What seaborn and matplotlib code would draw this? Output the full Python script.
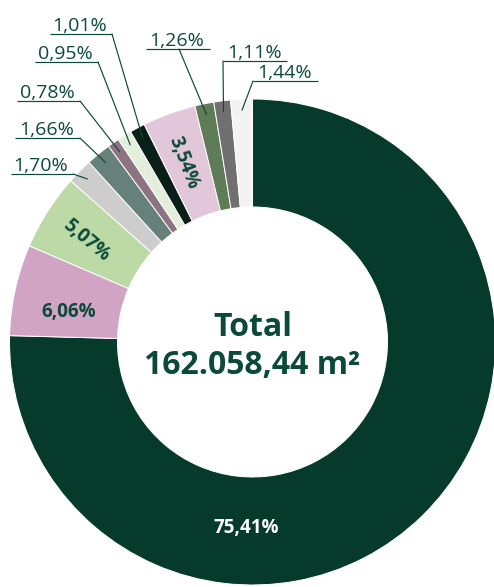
import numpy as np
import matplotlib
matplotlib.use("Agg")
import matplotlib.pyplot as plt
import seaborn as sns

# ---- data ----
labels = ["75,41%", "6,06%", "5,07%", "1,70%", "1,66%", "0,78%",
          "0,95%", "1,01%", "3,54%", "1,26%", "1,11%", "1,44%"]
values = [75.41, 6.06, 5.07, 1.70, 1.66, 0.78, 0.95, 1.01, 3.54, 1.26, 1.11, 1.44]
colors = ["#063A2A", "#D2A4C4", "#BDDAA6", "#CDCDCD", "#66807A", "#8E7482",
          "#E3EEDB", "#0A1F18", "#E2C7DA", "#5F7B57", "#707070", "#F3F3F3"]
total_line1 = "Total"
total_line2 = "162.058,44 m²"

# ---- style ----
sns.set_theme(style="white")
plt.rcParams["font.family"] = ["Open Sans", "DejaVu Sans"]
TXT = "#0B4A3A"

W, H = 494, 587
fig = plt.figure(figsize=(W / 100, H / 100), dpi=100)
ax = fig.add_axes([0, 0, 1, 1])

cx, cy = 252.5, H - 342
R_out, ring = 243, 108
palette = sns.color_palette(colors)

wedges, _ = ax.pie(values, colors=palette, startangle=90, counterclock=False,
                   center=(cx, cy), radius=R_out,
                   wedgeprops=dict(width=ring, edgecolor="white", linewidth=0.7),
                   frame=False)
ax.set_xlim(0, W)
ax.set_ylim(0, H)
ax.set_aspect("equal")
ax.axis("off")

def mid_angle(w):
    return np.deg2rad((w.theta1 + w.theta2) / 2)

# inside labels: index -> (angle offset deg, radius offset px, rotation or None=radial)
inside = {1: (3.0, -3, 0.0), 2: (1.0, 6, -40.0), 8: (0.8, 3, None)}
r_mid = R_out - ring / 2
for i, (da, dr, rot) in inside.items():
    a = mid_angle(wedges[i]) + np.deg2rad(da)
    r = r_mid + dr
    x, y = cx + r * np.cos(a), cy + r * np.sin(a)
    rotation = rot if rot is not None else np.rad2deg(a) - 180
    ax.text(x, y, labels[i], ha="center", va="center", rotation=rotation,
            fontsize=13.5, fontweight="bold", color=TXT, rotation_mode="anchor")

# main slice label near the bottom
ax.text(cx - 6, cy - 186, labels[0], ha="center", va="center",
        fontsize=13.5, fontweight="bold", color="white")

# outside labels with leader lines: (index, underline x0, x1, y, knee x)
outside = [
    (3, 11, 73, 174, 73),
    (4, 15, 80, 138, 80),
    (5, 17, 80, 101, 80),
    (6, 35, 98, 62, 98),
    (7, 50, 112, 34, 112),
    (9, 146, 210, 49, 179),
    (10, 223, 287, 61, 223),
    (11, 253, 318, 81, 253),
]
r_end = R_out * 0.955
for i, x0, x1, uy, kx in outside:
    y = H - uy
    a = mid_angle(wedges[i])
    ex, ey = cx + r_end * np.cos(a), cy + r_end * np.sin(a)
    ax.plot([x0, x1], [y, y], color=TXT, lw=0.85, solid_capstyle="butt")
    ax.plot([kx, ex], [y, ey], color=TXT, lw=0.85)
    ax.text((x0 + x1) / 2 - 1, y + 3, labels[i], ha="center", va="baseline",
            fontsize=14, color=TXT)

# center total
ax.text(cx, H - 327, total_line1, ha="center", va="center",
        fontsize=23, fontweight="bold", color=TXT)
ax.text(cx, H - 365, total_line2, ha="center", va="center",
        fontsize=23, fontweight="bold", color=TXT)

fig.savefig("out.png", dpi=100)
